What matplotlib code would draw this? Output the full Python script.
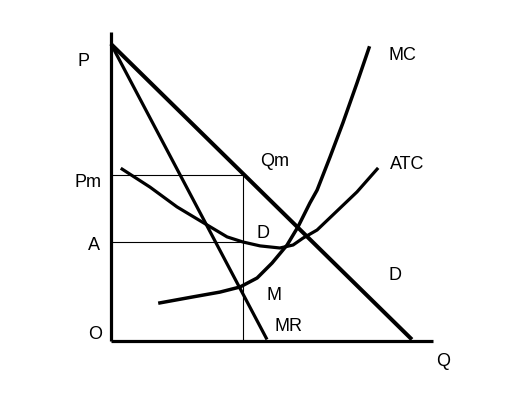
import matplotlib
matplotlib.use("Agg")
import matplotlib.pyplot as plt

# Monopoly diagram: quantity on x, price on y (origin O)
demand_q = [0.0, 10.03]
demand_p = [9.9, 0.05]

mr_q = [0.0, 5.2]
mr_p = [9.9, 0.05]

atc_q = [0.37, 1.3, 2.2, 3.2, 3.87, 4.4, 4.97, 5.63, 6.07, 6.4, 6.87, 7.53, 8.2, 8.87]
atc_p = [5.73, 5.13, 4.47, 3.87, 3.47, 3.3, 3.17, 3.1, 3.2, 3.43, 3.7, 4.33, 4.97, 5.73]

mc_q = [1.63, 2.73, 3.63, 4.3, 4.87, 5.37, 5.87, 6.23, 6.63, 6.87, 7.3, 7.73, 8.2, 8.6]
mc_p = [1.27, 1.47, 1.63, 1.8, 2.1, 2.6, 3.2, 3.8, 4.6, 5.03, 6.13, 7.27, 8.6, 9.77]

price_pm = 5.53
avg_cost_a = 3.3
qty_qm = 4.4

axis_q_max = 10.73
axis_p_max = 10.3

# text labels: (text, q, p)
labels = [
    ("P", -0.93, 9.3),
    ("Pm", -0.77, 5.27),
    ("A", -0.57, 3.2),
    ("O", -0.53, 0.23),
    ("Qm", 5.47, 5.97),
    ("D", 5.07, 3.6),
    ("D", 9.47, 2.2),
    ("M", 5.43, 1.5),
    ("MR", 5.93, 0.47),
    ("MC", 9.7, 9.53),
    ("ATC", 9.87, 5.87),
    ("Q", 11.07, -0.7),
]

plt.rcParams["font.family"] = ["Liberation Sans", "DejaVu Sans"]

fig = plt.figure(figsize=(5.25, 4.18), dpi=100)
ax = fig.add_axes([0, 0, 1, 1])
ax.set_xlim(-111 / 30, (525 - 111) / 30)
ax.set_ylim((341 - 418) / 30, 341 / 30)
ax.axis("off")

k = "black"
# axes
ax.plot([0, 0], [0, axis_p_max], color=k, lw=2.3, solid_capstyle="butt")
ax.plot([0, axis_q_max], [0, 0], color=k, lw=2.3, solid_capstyle="butt")

# guide lines for Pm, A and Qm
ax.plot([0, qty_qm], [price_pm, price_pm], color=k, lw=0.8)
ax.plot([0, qty_qm], [avg_cost_a, avg_cost_a], color=k, lw=0.8)
ax.plot([qty_qm, qty_qm], [0, price_pm], color=k, lw=0.8)

# curves
ax.plot(demand_q, demand_p, color=k, lw=2.9, solid_capstyle="butt")
ax.plot(mr_q, mr_p, color=k, lw=2.3, solid_capstyle="butt")
ax.plot(atc_q, atc_p, color=k, lw=2.3, solid_joinstyle="round")
ax.plot(mc_q, mc_p, color=k, lw=2.5, solid_joinstyle="round")

for txt, q, p in labels:
    ax.text(q, p, txt, fontsize=13, ha="center", va="center", color=k)

fig.savefig("out.png", dpi=100)
